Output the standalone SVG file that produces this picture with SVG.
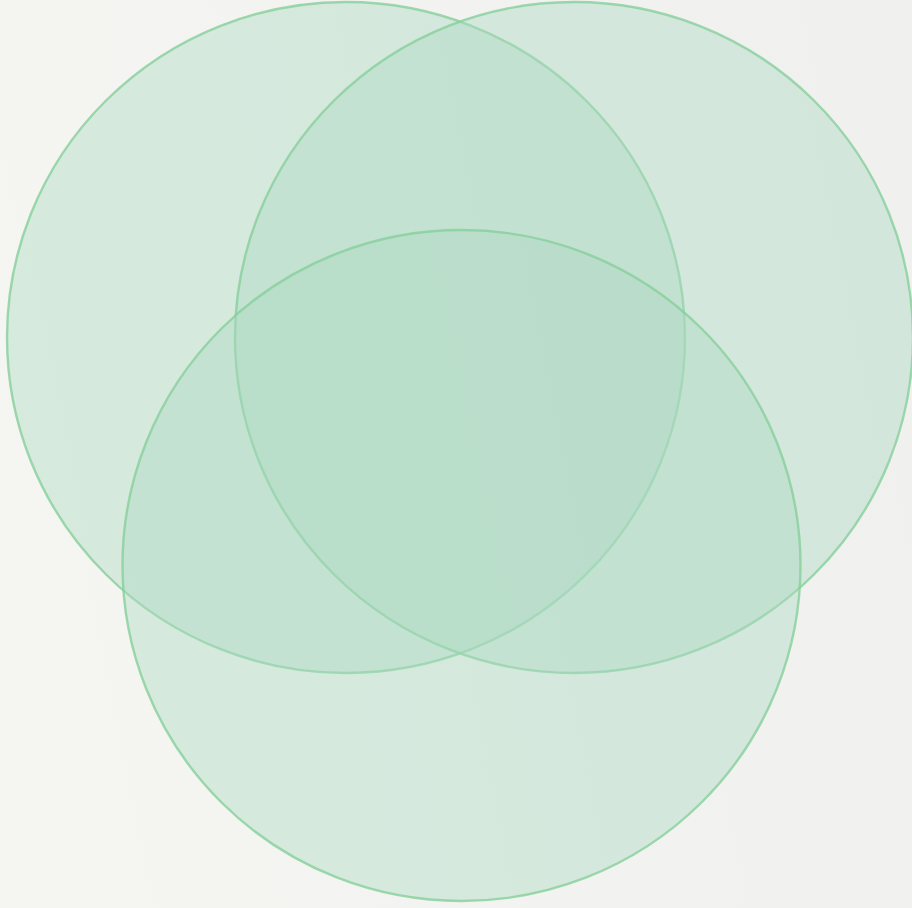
<svg xmlns="http://www.w3.org/2000/svg" width="912" height="908" viewBox="0 0 912 908">
<defs>
<linearGradient id="bg" x1="0" y1="0.6" x2="1" y2="0.4">
<stop offset="0" stop-color="#f5f6f2"/>
<stop offset="1" stop-color="#f0f0ef"/>
</linearGradient>
<style>
.set{fill:rgb(172,217,192);fill-opacity:0.42;stroke:#86cf9b;stroke-opacity:0.8;stroke-width:2.4}
</style>
</defs>
<rect width="912" height="908" fill="url(#bg)"/>
<g id="set-a"><ellipse class="set" cx="346" cy="337.5" rx="339" ry="335.5"/></g>
<g id="set-b"><ellipse class="set" cx="574" cy="337.5" rx="339" ry="335.5"/></g>
<g id="set-c"><ellipse class="set" cx="461.5" cy="565.5" rx="339" ry="335.5"/></g>
<g id="connectors"></g>
</svg>
